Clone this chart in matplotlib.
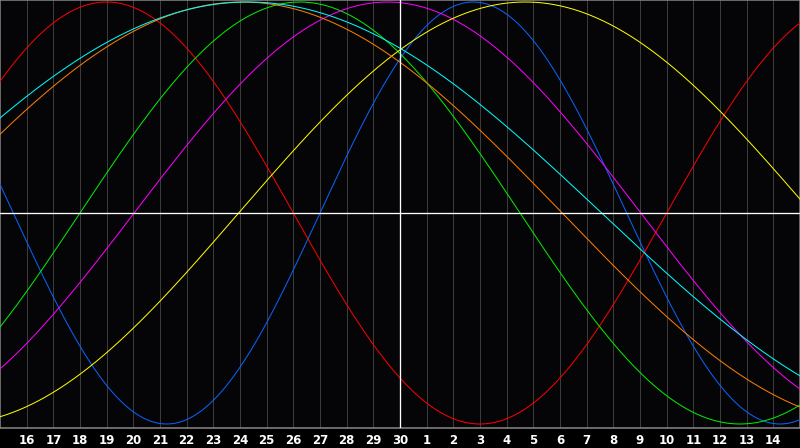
import matplotlib
matplotlib.use("Agg")
import matplotlib.pyplot as plt
import numpy as np

# day labels under the gridlines (positions 1..29)
days = [16, 17, 18, 19, 20, 21, 22, 23, 24, 25, 26, 27, 28, 29, 30,
        1, 2, 3, 4, 5, 6, 7, 8, 9, 10, 11, 12, 13, 14]

# cycles: period in days and the position (in days from left edge) where the curve rises through zero
periods = [23, 28, 33, 38, 43, 48, 53]
rise_at = [12.0, 25.0, 3.0, 5.03, 8.95, -2.92, -3.94]
colors = ['#0a64ff', '#ff0000', '#00f000', '#ff00ff', '#ffff00', '#ff7f00', '#00ffff']

span = 30
px = 1.0 / 100 * 72  # one pixel in points

fig = plt.figure(figsize=(8, 4.48), dpi=100, facecolor='black')
ax = fig.add_axes([0, 20 / 448, 1, 428 / 448])
ax.set_facecolor('#050508')

t = np.linspace(0, span, 1601)
for p, r, c in zip(periods, rise_at, colors):
    ax.plot(t, np.sin(2 * np.pi * (t - r) / p), color=c, lw=px, zorder=3)

# grid
for i in range(1, span):
    if i == 15:
        ax.axvline(i, color='white', lw=px * 1.3, zorder=4)
    else:
        ax.axvline(i, color='#3c3c3c', lw=px, zorder=1)
ax.axhline(0, color='white', lw=px * 1.3, zorder=4)

ax.set_xlim(0, span)
ax.set_ylim(-1 - 4 / 211, 1 + 2 / 211)
ax.set_yticks([])
ax.set_xticks(range(1, span))
ax.set_xticklabels([str(d) for d in days], color='white', fontsize=8.5,
                   fontweight='bold', family='DejaVu Sans')
ax.tick_params(axis='x', length=0, pad=4)
for s in ax.spines.values():
    s.set_color('#8a8a8a')
    s.set_linewidth(px * 1.5)

fig.savefig('out.png', dpi=100, facecolor='black')
